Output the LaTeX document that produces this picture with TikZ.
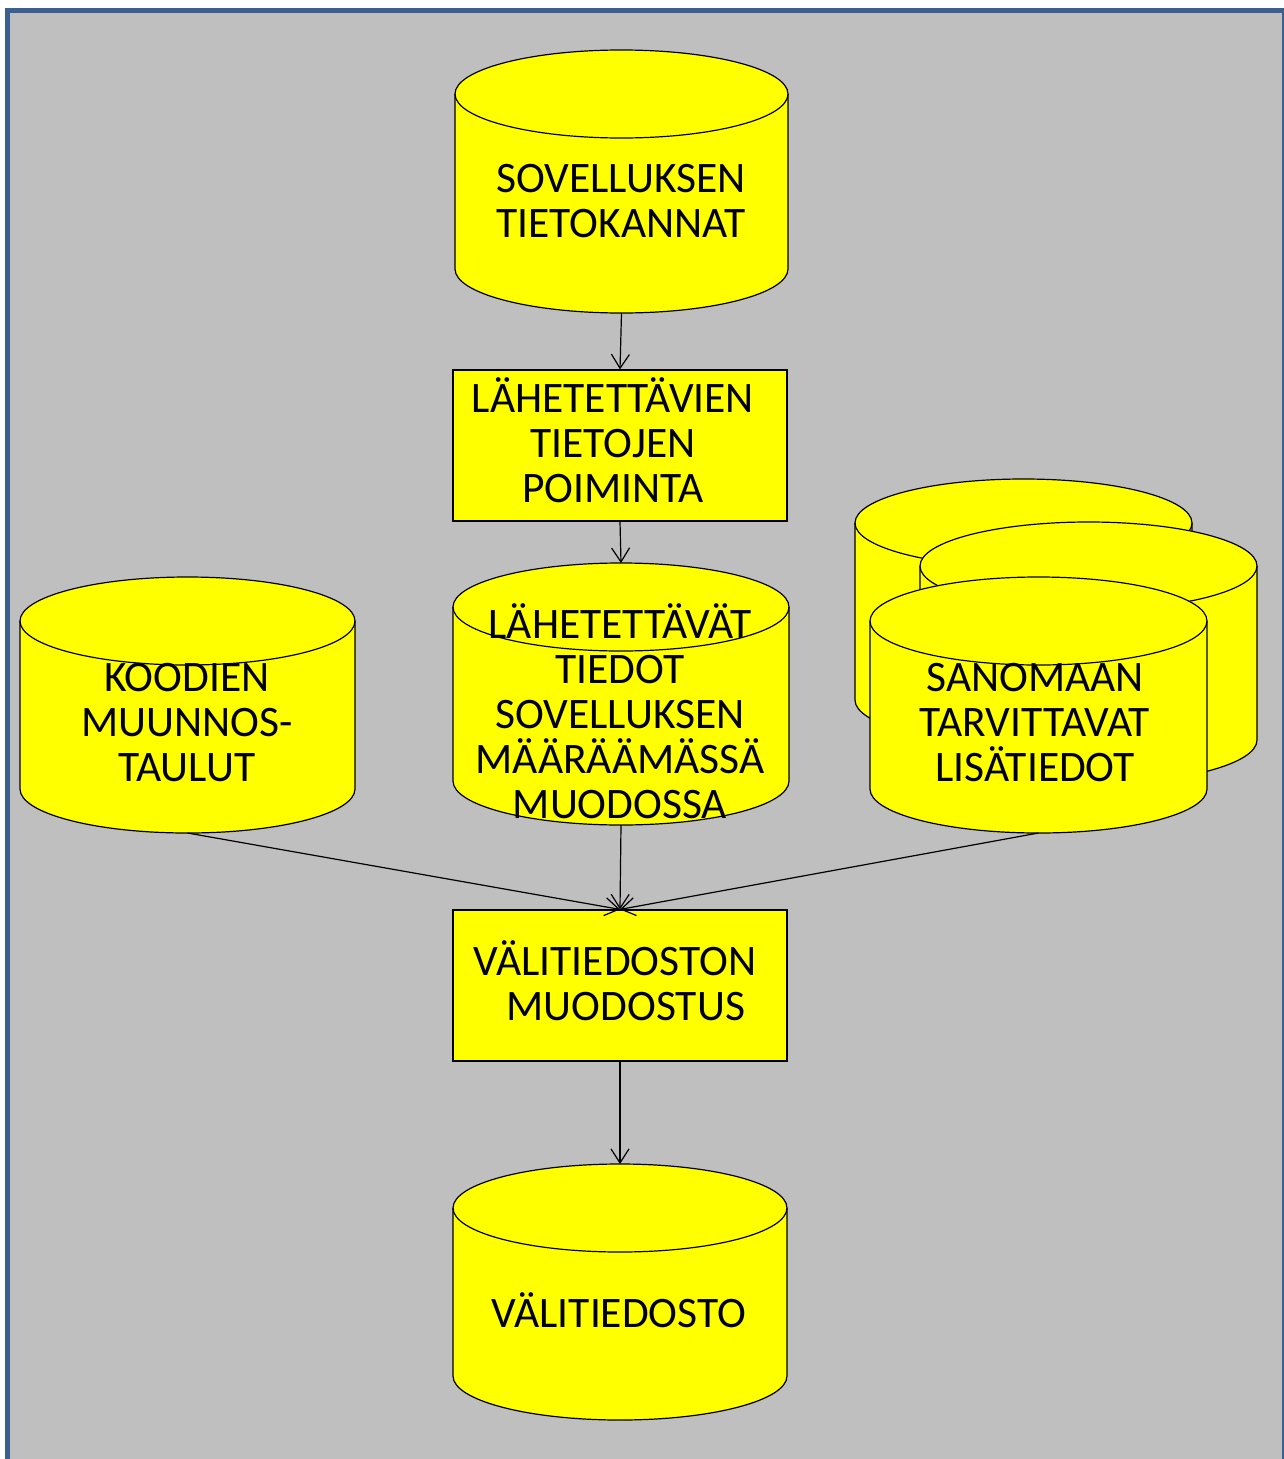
\documentclass[tikz,border=0pt]{standalone}
\usepackage{fontspec}
\setmainfont{Carlito}
\usetikzlibrary{arrows.meta}
\definecolor{bgray}{HTML}{BFBFBF}
\definecolor{frameblue}{HTML}{3B5F8E}
\definecolor{yel}{HTML}{FFFF00}
\tikzset{
  lbl/.style={font=\fontsize{43.5}{45}\selectfont, align=center, inner sep=0pt, text=black},
  procbox/.style={draw=black, line width=1.2pt, fill=yel, minimum width=334pt, minimum height=151pt, inner sep=0pt},
  cylbb/.style={inner sep=0pt, outer sep=0pt},
  conn/.style={draw=black, line width=1.2pt, -{Straight Barb[length=14pt,width=18pt,line width=1.2pt]}},
  cylline/.style={draw=black, line width=1.2pt, fill=yel}
}
\newcommand\mycyl[5]{% name, x1, ytop, x2, ybot
  \pgfmathsetmacro\cxx{(#2+#4)/2}
  \pgfmathsetmacro\rxx{(#4-#2)/2}
  \pgfmathsetmacro\ycc{#3+44}
  \pgfmathsetmacro\ybb{#5-44}
  \pgfmathsetmacro\cyy{(#3+#5)/2}
  \pgfmathsetmacro\ww{#4-#2}
  \pgfmathsetmacro\hh{#5-#3}
  \path[cylline] (#2,\ycc) -- (#2,\ybb) arc[start angle=180,end angle=0,x radius=\rxx,y radius=44] -- (#4,\ycc) arc[start angle=0,end angle=-180,x radius=\rxx,y radius=44] -- cycle;
  \draw[black, line width=1.2pt] (#2,\ycc) arc[start angle=180,end angle=0,x radius=\rxx,y radius=44];
  \node[cylbb, minimum width=\ww pt, minimum height=\hh pt] (#1) at (\cxx,\cyy) {};
}
\begin{document}
\begin{tikzpicture}[x=1pt,y=-1pt]
\useasboundingbox (0,0) rectangle (1284,1459);
\begin{scope}
\clip (0,0) rectangle (1284,1459);
\fill[white] (0,0) rectangle (1284,1459);
\path[fill=bgray, draw=frameblue, line width=5pt] (7.5,10.5) rectangle (1284.5,1470);
\end{scope}

% top database
\mycyl{c1}{455}{50}{788}{313}
\node[lbl] (t1) at (621,201) {SOVELLUKSEN\\TIETOKANNAT};

% extraction box
\node[procbox] (b1) at (620,445.5) {};
\node[lbl] (t2) at (613,440) {LÄHETETTÄVIEN\\TIETOJEN\\POIMINTA};

% middle database
\mycyl{c2}{453}{563}{789}{825}
\node[lbl] (t3) at (620,711) {LÄHETETTÄVÄT\\TIEDOT\\SOVELLUKSEN\\MÄÄRÄÄMÄSSÄ\\MUODOSSA};

% code tables
\mycyl{ck}{20}{577}{355}{833}
\node[lbl] (t4) at (187,723) {KOODIEN\\MUUNNOS-\\TAULUT};

% stacked databases
\mycyl{cb1}{855}{479}{1192}{744}
\mycyl{cb2}{920}{522}{1257}{784}
\mycyl{cs}{870}{577}{1207}{833}
\node[lbl] (t5) at (1035,723) {SANOMAAN\\TARVITTAVAT\\LISÄTIEDOT};

% forming box
\node[procbox] (b2) at (620,985.5) {};
\node[lbl] (t6) at (615,981) {VÄLITIEDOSTON\\\hspace*{0.5em}MUODOSTUS};

% output file
\mycyl{c4}{453}{1164}{787}{1420}
\node[lbl] (t7) at (619,1310) {VÄLITIEDOSTO};

% connectors
\draw[conn] (c1.south) -- (b1.north);
\draw[conn] (b1.south) -- (c2.north);
\draw[conn] (c2.south) -- (b2.north);
\draw[conn] (ck.south) -- (b2.north);
\draw[conn] (cs.south) -- (b2.north);
\draw[conn] (b2.south) -- (c4.north);
\end{tikzpicture}
\end{document}
